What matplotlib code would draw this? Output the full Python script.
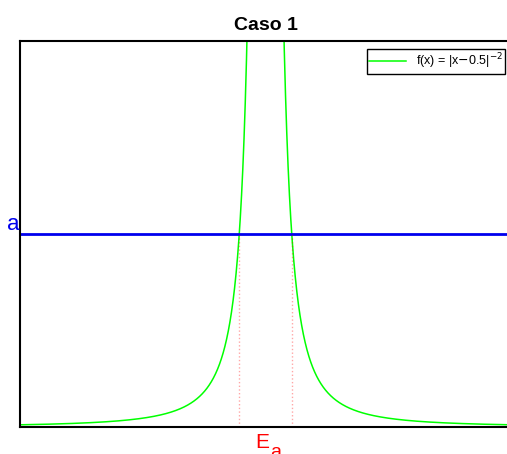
import matplotlib.pyplot as plt
import numpy as np

plt.rcParams['font.family'] = ['Liberation Sans', 'DejaVu Sans']

# Caso 1: f(x) = |x-0.5|^-2 med nivå a
x = np.linspace(0, 1, 4001)
x = x[np.abs(x - 0.5) > 1e-3]
f = np.abs(x - 0.5) ** -2.0
a = 350
ymax = 700
ea = [0.5 - a ** -0.5, 0.5 + a ** -0.5]

fig = plt.figure(figsize=(5.07, 4.54), dpi=100)
ax = fig.add_axes([20 / 507, 27 / 454, 491 / 507, 386 / 454])

ax.plot(x, f, color='#00ff00', lw=1.1, label=r'f(x) = |x$-$0.5|$^{-2}$')
ax.axhline(a, color='#0000ee', lw=2.0)
for xe in ea:
    ax.plot([xe, xe], [0, a], color='red', lw=1.0, ls=':', alpha=0.35)

ax.set_xlim(0, 1)
ax.set_ylim(0, ymax)
ax.set_xticks([])
ax.set_yticks([])
for s in ax.spines.values():
    s.set_linewidth(1.5)

ax.set_title('Caso 1', fontsize=14, fontweight='bold', pad=8)
ax.text(-0.002, a + 7, 'a', color='#0000ee', fontsize=16, ha='right', va='baseline',
        transform=ax.get_yaxis_transform())
ax.text(0.493, -0.055, 'E', color='red', fontsize=15, ha='center', va='baseline',
        transform=ax.transAxes)
ax.text(0.52, -0.078, 'a', color='red', fontsize=14, ha='center', va='baseline',
        transform=ax.transAxes)

leg = ax.legend(loc='upper right', bbox_to_anchor=(505 / 507, 1 - 49 / 454),
                bbox_transform=fig.transFigure, borderaxespad=0, fontsize=9,
                fancybox=False, framealpha=1, edgecolor='black', borderpad=0.2,
                handlelength=2.9, handletextpad=0.8)
leg.get_frame().set_linewidth(1.0)

fig.savefig('out.png', dpi=100)
